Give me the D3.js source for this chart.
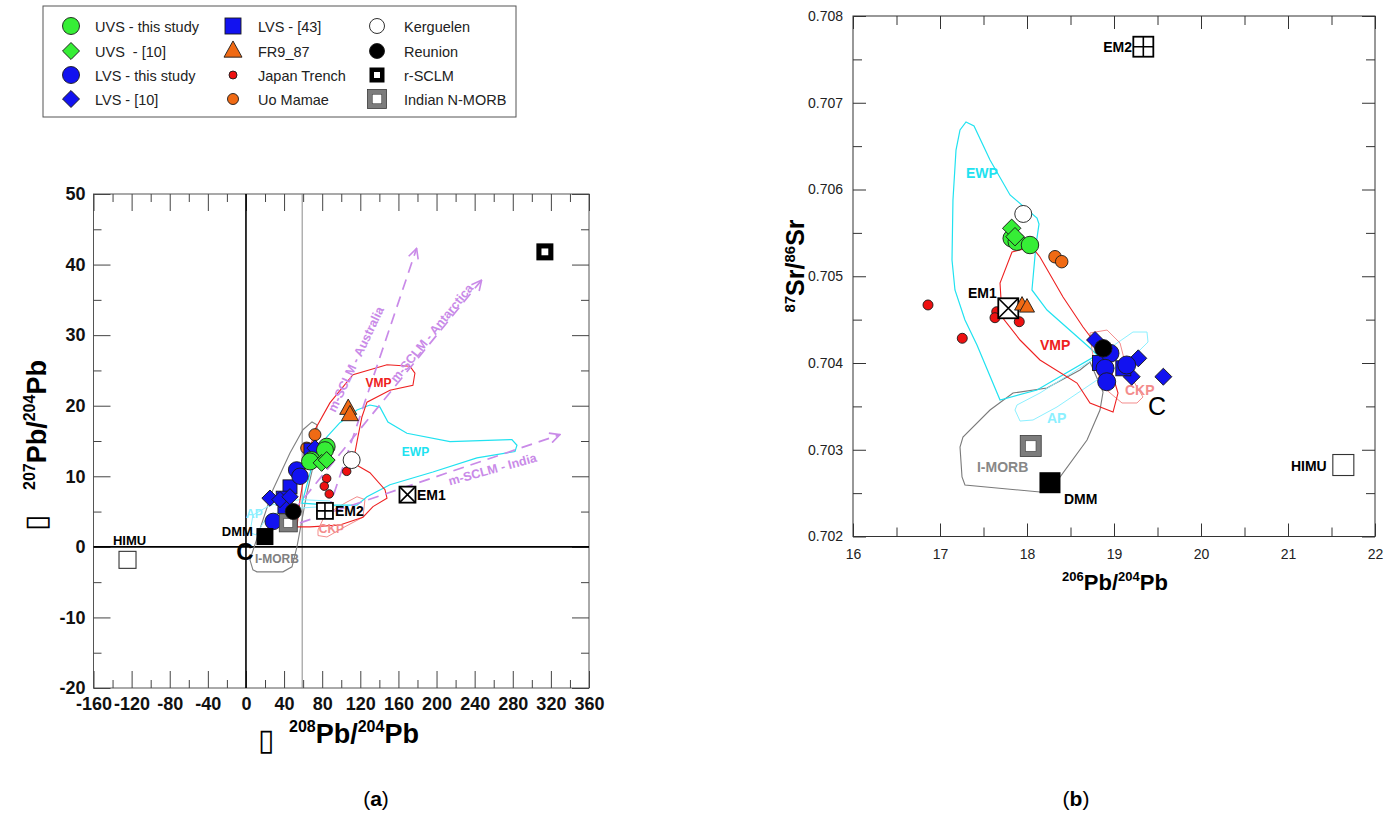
<!DOCTYPE html>
<html><head><meta charset="utf-8">
<script src="https://cdn.jsdelivr.net/npm/d3@7"></script>
<style>
body{margin:0;background:#fff;}
svg{display:block;}
text{font-family:"Liberation Sans",Arial,sans-serif;}
</style></head><body>
<svg id="c" width="1395" height="814"></svg>
<script>
// ================= DATA =================
// Panel (a): x = Δ208Pb/204Pb, y = Δ207Pb/204Pb
const leftXTicks = [-160,-120,-80,-40,0,40,80,120,160,200,240,280,320,360];
const leftXMinor = [-140,-100,-60,-20,20,60,100,140,180,220,260,300,340];
const leftYTicks = [-20,-10,0,10,20,30,40,50];
const leftYMinor = [-15,-5,5,15,25,35,45];
const leftRefLineX = 59;

const uvsThisL = [[84.7,14.2],[82.9,13.7],[68.9,12.3],[67.2,12.1]];
const uvs10L   = [[79.4,11.9],[84.7,12.3]];
const lvsThisL = [[53.2,10.9],[56.7,10.0],[28.6,3.6]];
const lvs10L   = [[25.2,6.9],[35.7,6.7],[46.2,7.1],[72.4,14.0]];
const lvs43L   = [[46.2,8.5],[39.1,6.9],[40.9,5.7],[68.2,13.7]];
const fr987L   = [[107.3,19.6],[109.1,18.7]];
const japanL   = [[105.7,10.7],[84.7,9.7],[82.2,8.6],[87.4,7.5]];
const uoMamaeL = [[72.4,15.9],[63.7,14.0]];
const kerguelenL = [[110.9,12.3]];
const reunionL = [[49.6,5.0]];
const rsclmL   = [[313.7,41.8]];
const nmorbL   = [[44.4,3.4]];
const dmmL = [19.9,1.46], em1L = [169.5,7.4], em2L = [82.9,5.1], himuL = [-124.3,-1.84];

const imorbPolyL = [[4.2,-1.84],[7.3,-3.26],[11.5,-3.54],[38.8,-3.54],[48.3,-2.83],[53.5,0],[58.8,3.82],[64.0,7.65],[70.3,11.3],[74.5,15.4],[74.5,17.3],[69.3,17.7],[59.8,16.6],[46.2,13.3],[28.3,8.1],[17.8,3.8]];
const vmpPolyL = [[53.5,2.83],[56.7,6.66],[61.9,10.9],[72.4,16.6],[88.1,20.4],[112.3,24.4],[148.0,25.8],[172.1,25.6],[177.3,24.6],[175.2,22.9],[151.1,22.2],[127.0,20.5],[121.7,18.4],[117.5,15.6],[112.3,11.9],[130.1,10.5],[145.9,8.1],[148.0,6.9],[133.3,5.7],[122.8,4.2],[98.6,3.1],[67.2,2.83]];
const ewpPolyL = [[58.8,6.2],[72.4,13.0],[85.0,15.6],[98.6,17.6],[116.5,19.4],[130.1,20.1],[140.6,19.8],[149.0,17.7],[168.9,16.1],[214.1,14.9],[279.1,15.2],[284.4,14.4],[282.3,13.5],[242.4,12.6],[196.2,10.6],[151.1,8.8],[127.0,7.1],[116.5,5.9],[88.1,5.9]];
const ckpPolyL = [[75.6,2.4],[82.9,4.5],[103.9,6.2],[116.5,7.1],[124.9,6.7],[122.8,4.2],[101.8,2.7],[85.0,1.4],[75.6,1.6]];
const apPolyL  = [[4.2,2.0],[7.3,4.5],[25.2,5.9],[56.7,6.7],[88.1,6.5],[93.4,5.8],[56.7,5.5],[23.1,4.5],[10.5,1.7]];

const sclmArrows = [
  {name:"m-SCLM - Australia",  from:[86.0,5.0], to:[179.1,42.3], label:[115.2,26.6], angle:-64.7},
  {name:"m-SCLM - Antarctica", from:[49.3,5.0], to:[247.3,37.8], label:[194.9,30.3], angle:-50.8},
  {name:"m-SCLM - India",      from:[56.7,3.4], to:[329.5,15.9], label:[258.7,11.0], angle:-15.3}
];

// Panel (b): x = 206Pb/204Pb, y = 87Sr/86Sr
const rightXTicks = [16,17,18,19,20,21,22];
const rightXMinor = [16.5,17.5,18.5,19.5,20.5,21.5];
const rightYTicks = [0.702,0.703,0.704,0.705,0.706,0.707,0.708];
const rightYMinor = [0.7025,0.7035,0.7045,0.7055,0.7065,0.7075];

const uvsThisR = [[17.824,0.705437],[17.882,0.705398],[18.034,0.705360]];
const uvs10R   = [[17.824,0.705553],[17.862,0.705456]];
const lvsThisR = [[18.954,0.704112],[18.897,0.703939],[19.146,0.703977],[18.916,0.703784]];
const lvs10R   = [[18.782,0.704265],[19.279,0.704054],[19.203,0.703842],[19.567,0.703842]];
const lvs43R   = [[18.839,0.704000],[19.107,0.703939]];
const fr987R   = [[17.943,0.704669],[18.000,0.704646]];
const japanR   = [[16.862,0.704669],[17.256,0.704285],[17.652,0.704591],[17.632,0.704522],[17.911,0.704476]];
const uoMamaeR = [[18.322,0.705225],[18.399,0.705168]];
const kerguelenR = [[17.957,0.705718]];
const reunionR = [[18.877,0.704169]];
const nmorbR   = [[18.043,0.703043]];
const dmmR = [18.264,0.702620], em1R = [17.785,0.704631], em2R = [19.337,0.707646], himuR = [21.636,0.702824];

const ewpPolyR = [[17.299,0.706778],[17.391,0.706732],[17.575,0.706340],[17.805,0.705937],[18.115,0.705671],[18.138,0.705602],[18.103,0.705360],[18.057,0.704842],[18.230,0.704611],[18.724,0.704173],[18.805,0.704092],[18.115,0.703689],[17.690,0.703573],[17.425,0.704207],[17.287,0.704496],[17.172,0.704842],[17.138,0.705187],[17.149,0.705879],[17.184,0.706455],[17.230,0.706686]];
const vmpPolyR = [[17.828,0.705280],[17.690,0.704922],[17.713,0.704530],[17.920,0.704265],[18.149,0.704035],[18.575,0.703769],[18.724,0.703539],[18.989,0.703435],[19.046,0.703654],[18.931,0.704035],[18.644,0.704415],[18.414,0.704761],[18.149,0.705222],[18.057,0.705337]];
const ckpPolyR = [[18.724,0.704346],[18.920,0.704380],[19.069,0.704231],[19.149,0.703919],[19.333,0.703608],[19.264,0.703539],[19.092,0.703539],[18.874,0.703723],[18.782,0.703954],[18.747,0.704150]];
const apPolyR  = [[17.862,0.703458],[17.920,0.703331],[18.069,0.703343],[18.345,0.703493],[18.805,0.703804],[19.264,0.704115],[19.391,0.704242],[19.379,0.704357],[19.218,0.704357],[18.805,0.704069],[18.149,0.703654],[17.885,0.703516]];
const imorbPolyR = [[18.724,0.704012],[18.874,0.703666],[18.839,0.703458],[18.690,0.703112],[18.379,0.702686],[18.149,0.702513],[17.287,0.702594],[17.253,0.702686],[17.230,0.703032],[17.264,0.703147],[17.575,0.703458],[17.839,0.703654],[18.230,0.703712],[18.609,0.703919]];

const legendLabels = [
  ["UVS - this study","UVS\u00a0 - [10]","LVS - this study","LVS - [10]"],
  ["LVS - [43]","FR9_87","Japan Trench","Uo Mamae"],
  ["Kerguelen","Reunion","r-SCLM","Indian N-MORB"]
];

// ================= STYLE =================
const COL = {green:"#36ee36", blue:"#1212f0", orange:"#f06a14", red:"#ee1111",
  cyan:"#20e2f0", vmp:"#ee2020", ckp:"#f38c8c", ap:"#8cf0ff", imorb:"#808080", sclm:"#c98ae8"};
const svg = d3.select("#c");
const fmtPlain = d => String(d);

function mark(g, type, px, py, s, fill) {
  const st = "#1a1a1a";
  if (type === "circle") {
    g.append("circle").attr("cx",px).attr("cy",py).attr("r",s/2).attr("fill",fill).attr("stroke",st).attr("stroke-width",0.9);
  } else if (type === "square") {
    g.append("rect").attr("x",px-s/2).attr("y",py-s/2).attr("width",s).attr("height",s).attr("fill",fill).attr("stroke",st).attr("stroke-width",0.9);
  } else if (type === "diamond") {
    g.append("rect").attr("x",px-s/2).attr("y",py-s/2).attr("width",s).attr("height",s).attr("fill",fill).attr("stroke",st).attr("stroke-width",0.9)
      .attr("transform",`rotate(45,${px},${py})`);
  } else if (type === "triangle") {
    const h = s*0.9;
    g.append("path").attr("d",`M${px},${py-h*0.62}L${px+s/2},${py+h*0.38}L${px-s/2},${py+h*0.38}Z`).attr("fill",fill).attr("stroke",st).attr("stroke-width",0.9);
  } else if (type === "rsclm") {
    g.append("rect").attr("x",px-s/2).attr("y",py-s/2).attr("width",s).attr("height",s).attr("fill","#000");
    g.append("rect").attr("x",px-s*0.2).attr("y",py-s*0.2).attr("width",s*0.4).attr("height",s*0.4).attr("fill","#fff");
  } else if (type === "nmorb") {
    g.append("rect").attr("x",px-s/2).attr("y",py-s/2).attr("width",s).attr("height",s).attr("fill","#7c7c7c").attr("stroke","#3a3a3a").attr("stroke-width",0.8);
    g.append("rect").attr("x",px-s*0.25).attr("y",py-s*0.25).attr("width",s*0.5).attr("height",s*0.5).attr("fill","#fff").attr("stroke","#444").attr("stroke-width",0.6);
  } else if (type === "em1" || type === "em2") {
    g.append("rect").attr("x",px-s/2).attr("y",py-s/2).attr("width",s).attr("height",s).attr("fill","#fff").attr("stroke","#000").attr("stroke-width",1.8);
    const h = s/2;
    const d = type === "em1" ? `M${px-h},${py-h}L${px+h},${py+h}M${px+h},${py-h}L${px-h},${py+h}`
                             : `M${px},${py-h}L${px},${py+h}M${px-h},${py}L${px+h},${py}`;
    g.append("path").attr("d",d).attr("stroke","#000").attr("stroke-width",1.6).attr("fill","none");
  } else if (type === "himu") {
    g.append("rect").attr("x",px-s/2).attr("y",py-s/2).attr("width",s).attr("height",s).attr("fill","#fff").attr("stroke","#333").attr("stroke-width",1.1);
  } else if (type === "dmm") {
    g.append("rect").attr("x",px-s/2).attr("y",py-s/2).attr("width",s).attr("height",s).attr("fill","#000");
  }
}
function series(g, x, y, arr, type, s, fill) { arr.forEach(d => mark(g, type, x(d[0]), y(d[1]), s, fill)); }
function label(g, x, y, pos, txt, o) {
  return g.append("text").attr("x",x(pos[0])).attr("y",y(pos[1])).text(txt)
    .attr("font-size",o.size||13).attr("font-weight",o.weight||"bold").attr("fill",o.color||"#000")
    .attr("text-anchor",o.anchor||"start");
}
function poly(g, x, y, pts, color, w) {
  g.append("path").attr("d", d3.line().x(d=>x(d[0])).y(d=>y(d[1])).curve(d3.curveLinearClosed)(pts))
    .attr("fill","none").attr("stroke",color).attr("stroke-width",w||1.1);
}

// ================= LEGEND =================
const lg = svg.append("g");
lg.append("rect").attr("x",43).attr("y",6).attr("width",473).attr("height",111).attr("fill","#fff").attr("stroke","#555").attr("stroke-width",1);
const legSym = [
  [["circle",17,COL.green],["diamond",12,COL.green],["circle",17,COL.blue],["diamond",12,COL.blue]],
  [["square",16,COL.blue],["triangle",18,COL.orange],["circle",8,COL.red],["circle",11,COL.orange]],
  [["circle",15,"#fff"],["circle",15,"#000"],["rsclm",15,"#000"],["nmorb",19,"#7c7c7c"]]
];
const legSymX = [71, 233, 377], legTxtX = [95, 258, 404], legRowY = [26, 51, 75, 99];
legendLabels.forEach((col, ci) => col.forEach((lab, ri) => {
  const s = legSym[ci][ri];
  mark(lg, s[0], legSymX[ci], legRowY[ri], s[1], s[2]);
  lg.append("text").attr("x",legTxtX[ci]).attr("y",legRowY[ri]+5.5).text(lab)
    .attr("font-family","Lato, 'Open Sans', sans-serif").attr("font-size",14.5).attr("fill","#222");
}));

// ================= PANEL (a) =================
const xL = d3.scaleLinear().domain([-160,360]).range([93.5,589]);
const yL = d3.scaleLinear().domain([-20,50]).range([688,194]);
const gA = svg.append("g");

gA.append("rect").attr("x",xL(-160)).attr("y",yL(50)).attr("width",xL(360)-xL(-160)).attr("height",yL(-20)-yL(50))
  .attr("fill","none").attr("stroke","#555").attr("stroke-width",1);
function axisStyle(sel, size) {
  sel.select(".domain").remove();
  sel.selectAll(".tick line").attr("stroke","#444");
  sel.selectAll("text").attr("font-size",size).attr("font-weight","bold").attr("fill","#111")
     .attr("font-family","'Liberation Sans', Arial, sans-serif");
}
gA.append("g").attr("transform",`translate(0,${yL(-20)})`)
  .call(d3.axisBottom(xL).tickValues(leftXTicks).tickSize(-17).tickPadding(9).tickFormat(fmtPlain)).call(s=>axisStyle(s,18));
gA.append("g").attr("transform",`translate(0,${yL(-20)})`)
  .call(d3.axisBottom(xL).tickValues(leftXMinor).tickSize(-8).tickFormat("")).call(s=>axisStyle(s,18));
gA.append("g").attr("transform",`translate(0,${yL(50)})`)
  .call(d3.axisTop(xL).tickValues(leftXTicks).tickSize(-17).tickFormat("")).call(s=>axisStyle(s,18));
gA.append("g").attr("transform",`translate(0,${yL(50)})`)
  .call(d3.axisTop(xL).tickValues(leftXMinor).tickSize(-8).tickFormat("")).call(s=>axisStyle(s,18));
gA.append("g").attr("transform",`translate(${xL(-160)},0)`)
  .call(d3.axisLeft(yL).tickValues(leftYTicks).tickSize(-17).tickPadding(8).tickFormat(fmtPlain)).call(s=>axisStyle(s,18));
gA.append("g").attr("transform",`translate(${xL(-160)},0)`)
  .call(d3.axisLeft(yL).tickValues(leftYMinor).tickSize(-8).tickFormat("")).call(s=>axisStyle(s,18));
gA.append("g").attr("transform",`translate(${xL(360)},0)`)
  .call(d3.axisRight(yL).tickValues(leftYTicks).tickSize(-17).tickFormat("")).call(s=>axisStyle(s,18));
gA.append("g").attr("transform",`translate(${xL(360)},0)`)
  .call(d3.axisRight(yL).tickValues(leftYMinor).tickSize(-8).tickFormat("")).call(s=>axisStyle(s,18));

// reference lines
gA.append("line").attr("x1",xL(leftRefLineX)).attr("x2",xL(leftRefLineX)).attr("y1",yL(-20)).attr("y2",yL(50)).attr("stroke","#8a8a8a").attr("stroke-width",1);
gA.append("line").attr("x1",xL(-160)).attr("x2",xL(360)).attr("y1",yL(0)).attr("y2",yL(0)).attr("stroke","#000").attr("stroke-width",1.6);
gA.append("line").attr("x1",xL(0)).attr("x2",xL(0)).attr("y1",yL(-20)).attr("y2",yL(50)).attr("stroke","#000").attr("stroke-width",1.6);

// fields
poly(gA,xL,yL,imorbPolyL,COL.imorb,1.1);
poly(gA,xL,yL,apPolyL,COL.ap,1);
poly(gA,xL,yL,ckpPolyL,COL.ckp,1);
poly(gA,xL,yL,ewpPolyL,COL.cyan,1.2);
poly(gA,xL,yL,vmpPolyL,COL.vmp,1.1);

// SCLM arrows
const defs = svg.append("defs");
defs.append("marker").attr("id","arr").attr("viewBox","0 0 12 12").attr("refX",11).attr("refY",6)
  .attr("markerWidth",12).attr("markerHeight",12).attr("markerUnits","userSpaceOnUse").attr("orient","auto")
  .append("path").attr("d","M1,1L11,6L1,11").attr("fill","none").attr("stroke",COL.sclm).attr("stroke-width",1.6);
sclmArrows.forEach(a => {
  gA.append("line").attr("x1",xL(a.from[0])).attr("y1",yL(a.from[1])).attr("x2",xL(a.to[0])).attr("y2",yL(a.to[1]))
    .attr("stroke",COL.sclm).attr("stroke-width",1.7).attr("stroke-dasharray","11,7").attr("marker-end","url(#arr)");
  gA.append("text").attr("transform",`translate(${xL(a.label[0])},${yL(a.label[1])}) rotate(${a.angle})`)
    .attr("text-anchor","middle").attr("dy","0.35em").attr("font-size",12.5).attr("font-weight","bold").attr("fill",COL.sclm).text(a.name);
});

// field labels
label(gA,xL,yL,[139.0,22.7],"VMP",{size:12,color:COL.vmp,anchor:"middle"});
label(gA,xL,yL,[177.9,12.9],"EWP",{size:12,color:COL.cyan,anchor:"middle"});
label(gA,xL,yL,[89.7,2.0],"CKP",{size:12,color:COL.ckp,anchor:"middle"});
label(gA,xL,yL,[8.9,4.1],"AP",{size:12,color:COL.ap,anchor:"middle"});
label(gA,xL,yL,[9.4,-2.27],"I-MORB",{size:12,color:COL.imorb});

// points
series(gA,xL,yL,japanL,"circle",8.5,COL.red);
series(gA,xL,yL,uoMamaeL,"circle",12,COL.orange);
series(gA,xL,yL,lvs43L,"square",14,COL.blue);
series(gA,xL,yL,lvs10L,"diamond",11.5,COL.blue);
series(gA,xL,yL,lvsThisL,"circle",16.5,COL.blue);
series(gA,xL,yL,uvsThisL,"circle",17,COL.green);
series(gA,xL,yL,uvs10L,"diamond",12,COL.green);
series(gA,xL,yL,fr987L,"triangle",17,COL.orange);
series(gA,xL,yL,kerguelenL,"circle",17,"#fff");
series(gA,xL,yL,nmorbL,"nmorb",18,"#7c7c7c");
series(gA,xL,yL,reunionL,"circle",16,"#000");
series(gA,xL,yL,rsclmL,"rsclm",17,"#000");
mark(gA,"dmm",xL(dmmL[0]),yL(dmmL[1]),17,"#000");
mark(gA,"em1",xL(em1L[0]),yL(em1L[1]),16,"#fff");
mark(gA,"em2",xL(em2L[0]),yL(em2L[1]),16,"#fff");
mark(gA,"himu",xL(himuL[0]),yL(himuL[1]),17,"#fff");

label(gA,xL,yL,[7.3,1.56],"DMM",{size:13,anchor:"end"});
label(gA,xL,yL,[-139.6,0.28],"HIMU",{size:13});
label(gA,xL,yL,[-1.0,-1.84],"C",{size:24,anchor:"middle"});
label(gA,xL,yL,[93.4,4.4],"EM2",{size:14});
label(gA,xL,yL,[179.4,6.66],"EM1",{size:14});

// axis titles (a)
gA.append("text").attr("transform","translate(46,531) rotate(-90)").attr("font-family","'DejaVu Sans'").attr("font-size",30).attr("fill","#000").text("▯");
const ytA = gA.append("text").attr("transform","translate(46,490) rotate(-90)").attr("font-weight","bold").attr("fill","#000");
ytA.append("tspan").attr("font-size",16).attr("dy",-11).text("207");
ytA.append("tspan").attr("font-size",27).attr("dy",11).text("Pb/");
ytA.append("tspan").attr("font-size",16).attr("dy",-11).text("204");
ytA.append("tspan").attr("font-size",27).attr("dy",11).text("Pb");
gA.append("text").attr("x",258).attr("y",750).attr("font-family","'DejaVu Sans'").attr("font-size",30).attr("fill","#000").text("▯");
const xtA = gA.append("text").attr("x",289).attr("y",743).attr("font-weight","bold").attr("fill","#000");
xtA.append("tspan").attr("font-size",16).attr("dy",-11).text("208");
xtA.append("tspan").attr("font-size",27).attr("dy",11).text("Pb/");
xtA.append("tspan").attr("font-size",16).attr("dy",-11).text("204");
xtA.append("tspan").attr("font-size",27).attr("dy",11).text("Pb");

// ================= PANEL (b) =================
const xR = d3.scaleLinear().domain([16,22]).range([853,1375]);
const yR = d3.scaleLinear().domain([0.702,0.708]).range([536.5,16]);
const gB = svg.append("g");
gB.append("rect").attr("x",xR(16)).attr("y",yR(0.708)).attr("width",xR(22)-xR(16)).attr("height",yR(0.702)-yR(0.708))
  .attr("fill","none").attr("stroke","#333").attr("stroke-width",1);
function axisStyleB(sel) {
  sel.select(".domain").remove();
  sel.selectAll(".tick line").attr("stroke","#333");
  sel.selectAll("text").attr("font-size",14).attr("font-weight","normal").attr("fill","#222")
     .attr("font-family","'Liberation Sans', Arial, sans-serif");
}
gB.append("g").attr("transform",`translate(0,${yR(0.702)})`)
  .call(d3.axisBottom(xR).tickValues(rightXTicks).tickSize(-13).tickPadding(13).tickFormat(fmtPlain)).call(axisStyleB);
gB.append("g").attr("transform",`translate(0,${yR(0.702)})`)
  .call(d3.axisBottom(xR).tickValues(rightXMinor).tickSize(-9).tickFormat("")).call(axisStyleB);
gB.append("g").attr("transform",`translate(0,${yR(0.708)})`)
  .call(d3.axisTop(xR).tickValues(rightXTicks).tickSize(-13).tickFormat("")).call(axisStyleB);
gB.append("g").attr("transform",`translate(0,${yR(0.708)})`)
  .call(d3.axisTop(xR).tickValues(rightXMinor).tickSize(-9).tickFormat("")).call(axisStyleB);
gB.append("g").attr("transform",`translate(${xR(16)},0)`)
  .call(d3.axisLeft(yR).tickValues(rightYTicks).tickSize(-13).tickPadding(10).tickFormat(d3.format(".3f"))).call(axisStyleB);
gB.append("g").attr("transform",`translate(${xR(16)},0)`)
  .call(d3.axisLeft(yR).tickValues(rightYMinor).tickSize(-9).tickFormat("")).call(axisStyleB);
gB.append("g").attr("transform",`translate(${xR(22)},0)`)
  .call(d3.axisRight(yR).tickValues(rightYTicks).tickSize(-13).tickFormat("")).call(axisStyleB);
gB.append("g").attr("transform",`translate(${xR(22)},0)`)
  .call(d3.axisRight(yR).tickValues(rightYMinor).tickSize(-9).tickFormat("")).call(axisStyleB);

poly(gB,xR,yR,imorbPolyR,"#7a7a7a",1.1);
poly(gB,xR,yR,apPolyR,COL.ap,1);
poly(gB,xR,yR,ewpPolyR,COL.cyan,1.2);
poly(gB,xR,yR,ckpPolyR,COL.ckp,1);
poly(gB,xR,yR,vmpPolyR,COL.vmp,1.1);

label(gB,xR,yR,[17.299,0.706133],"EWP",{size:14,color:COL.cyan});
label(gB,xR,yR,[18.149,0.704150],"VMP",{size:14,color:COL.vmp});
label(gB,xR,yR,[19.126,0.703631],"CKP",{size:14,color:COL.ckp});
label(gB,xR,yR,[18.230,0.703308],"AP",{size:14,color:COL.ap});
label(gB,xR,yR,[17.425,0.702744],"I-MORB",{size:14,color:"#888"});

series(gB,xR,yR,japanR,"circle",10,COL.red);
series(gB,xR,yR,uoMamaeR,"circle",12.5,COL.orange);
series(gB,xR,yR,kerguelenR,"circle",17,"#fff");
series(gB,xR,yR,uvsThisR,"circle",17.5,COL.green);
series(gB,xR,yR,uvs10R,"diamond",13,COL.green);
mark(gB,"em1",xR(em1R[0]),yR(em1R[1]),20,"#fff");
series(gB,xR,yR,fr987R,"triangle",15,COL.orange);
series(gB,xR,yR,lvs10R,"diamond",12,COL.blue);
series(gB,xR,yR,lvs43R,"square",15,COL.blue);
series(gB,xR,yR,lvsThisR,"circle",18,COL.blue);
series(gB,xR,yR,reunionR,"circle",17.5,"#000");
series(gB,xR,yR,nmorbR,"nmorb",21,"#7c7c7c");
mark(gB,"dmm",xR(dmmR[0]),yR(dmmR[1]),21,"#000");
mark(gB,"himu",xR(himuR[0]),yR(himuR[1]),21,"#fff");
mark(gB,"em2",xR(em2R[0]),yR(em2R[1]),20,"#fff");

label(gB,xR,yR,[19.207,0.707585],"EM2",{size:14,anchor:"end"});
label(gB,xR,yR,[17.322,0.704749],"EM1",{size:14});
label(gB,xR,yR,[18.425,0.702375],"DMM",{size:14});
label(gB,xR,yR,[21.034,0.702755],"HIMU",{size:14});
label(gB,xR,yR,[19.391,0.703401],"C",{size:25,weight:"normal"});

const ytB = gB.append("text").attr("transform","translate(804,266) rotate(-90)").attr("text-anchor","middle").attr("font-weight","bold").attr("fill","#000");
ytB.append("tspan").attr("font-size",15).attr("dy",-9).text("87");
ytB.append("tspan").attr("font-size",25).attr("dy",9).text("Sr/");
ytB.append("tspan").attr("font-size",15).attr("dy",-9).text("86");
ytB.append("tspan").attr("font-size",25).attr("dy",9).text("Sr");
const xtB = gB.append("text").attr("x",1115).attr("y",590).attr("text-anchor","middle").attr("font-weight","bold").attr("fill","#000");
xtB.append("tspan").attr("font-size",13).attr("dy",-9).text("206");
xtB.append("tspan").attr("font-size",22).attr("dy",9).text("Pb/");
xtB.append("tspan").attr("font-size",13).attr("dy",-9).text("204");
xtB.append("tspan").attr("font-size",22).attr("dy",9).text("Pb");

// captions
[["a",376],["b",1076]].forEach(([c,x]) => {
  const t = svg.append("text").attr("x",x).attr("y",806).attr("text-anchor","middle")
    .attr("font-family","'Liberation Serif', 'DejaVu Serif', serif").attr("font-size",21).attr("fill","#000");
  t.append("tspan").text("(");
  t.append("tspan").attr("font-weight","bold").text(c);
  t.append("tspan").text(")");
});
</script></body></html>
